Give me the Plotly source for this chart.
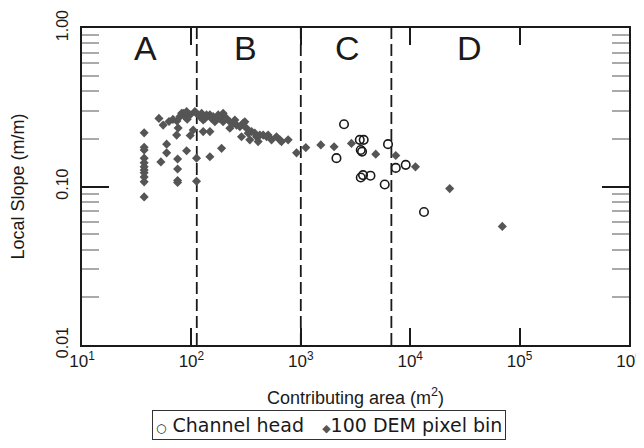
import plotly.graph_objects as go

# Channel heads (open circles)
ch_area = [2484, 2118, 3460, 3758, 3532, 3630, 3532, 3705, 4333, 5850, 6270, 7380, 9100, 13370]
ch_slope = [0.247, 0.151, 0.197, 0.197, 0.170, 0.166, 0.114, 0.118, 0.117, 0.103, 0.185, 0.131, 0.137, 0.069]

# 100 DEM pixel bins (diamonds)
bin_area = [37, 37, 37, 37, 37, 37, 37, 37, 37, 37, 37,
            50.5, 55.2, 62.4, 67.8, 73.7, 75.7, 78.5, 81.4, 84.1, 87.3, 90.4, 91.6, 96.9, 97.5,
            107.6, 103.8, 73.3, 59.4, 59.4, 52.6, 74.8, 74.8, 74.8, 74.8, 90.4, 111.4, 111.4,
            109.9, 119.6, 124, 128.2, 132.8, 137.6, 147.6, 152.8, 158, 164, 175.8, 182, 188.7,
            195, 195, 209.5, 224.7, 224.7, 241, 249.5, 258.7, 277.5, 297.4, 308, 319, 330.5,
            354.8, 380, 393.8, 407.5, 422.3, 452.8, 486.5, 502.6, 540, 599.4, 642.6, 666.2, 766,
            128.2, 147.6, 287, 342, 188.7, 147.6, 914, 1111, 1524, 2015, 2904, 4842, 7380,
            11170, 22960, 69500]
bin_slope = [0.218, 0.177, 0.170, 0.151, 0.141, 0.133, 0.127, 0.122, 0.115, 0.107, 0.086,
             0.269, 0.244, 0.257, 0.265, 0.259, 0.234, 0.276, 0.290, 0.290, 0.276, 0.297, 0.266, 0.283, 0.210,
             0.297, 0.227, 0.211, 0.185, 0.163, 0.143, 0.149, 0.129, 0.109, 0.106, 0.168, 0.151, 0.108,
             0.292, 0.276, 0.290, 0.263, 0.269, 0.283, 0.283, 0.269, 0.276, 0.256, 0.283, 0.269, 0.276,
             0.290, 0.256, 0.269, 0.256, 0.233, 0.251, 0.263, 0.244, 0.238, 0.251, 0.256, 0.233, 0.217,
             0.222, 0.217, 0.206, 0.192, 0.211, 0.211, 0.206, 0.211, 0.197, 0.206, 0.197, 0.192, 0.197,
             0.222, 0.222, 0.206, 0.197, 0.174, 0.154, 0.163, 0.176, 0.183, 0.178, 0.187, 0.160, 0.157,
             0.133, 0.097, 0.056]

# Region boundaries (contributing area, m^2) and labels
boundaries = [112, 1000, 6730]
region_labels = ["A", "B", "C", "D"]
region_label_pos = [0.1152, 0.298, 0.486, 0.7075]

legend_names = ["Channel head", "100 DEM pixel bin"]

x_tickvals = [1e1, 1e2, 1e3, 1e4, 1e5, 1e6]
x_ticktext = ["10<sup>1</sup>", "10<sup>2</sup>", "10<sup>3</sup>", "10<sup>4</sup>",
              "10<sup>5</sup>", "10<sup>6</sup>"]
y_tickvals = [0.01, 0.1, 1.0]
y_ticktext = ["0.01", "0.10", "1.00"]

DARK = "#1a1a1a"
GREY = "#555555"

fig = go.Figure()

for b in boundaries:
    fig.add_trace(go.Scatter(x=[b, b], y=[0.01, 1.0], mode="lines",
                             line=dict(color=DARK, width=1.8, dash="12px,5px"),
                             showlegend=False, hoverinfo="skip"))

fig.add_trace(go.Scatter(x=bin_area, y=bin_slope, mode="markers", name=legend_names[1],
                         marker=dict(symbol="diamond", size=7, color=GREY),
                         showlegend=False))
fig.add_trace(go.Scatter(x=ch_area, y=ch_slope, mode="markers", name=legend_names[0],
                         marker=dict(symbol="circle-open", size=8.5, color=DARK,
                                     line=dict(width=1.6)),
                         showlegend=False))

for lbl, px in zip(region_labels, region_label_pos):
    fig.add_annotation(x=px, y=0.937, xref="paper", yref="paper", text=lbl,
                       showarrow=False, font=dict(family="Liberation Sans", size=34, color=DARK),
                       xanchor="center", yanchor="middle")

# legend box (drawn as a bordered text annotation to match the compact original)
legend_text = ('<span style="font-size:12px">○</span> ' + legend_names[0] +
               '\u00a0\u00a0\u00a0<span style="font-size:11px;color:#555555">◆</span>' + legend_names[1])
fig.add_annotation(x=0.4516, y=-0.205, xref="paper", yref="paper", text=legend_text,
                   showarrow=False, xanchor="center", yanchor="top",
                   font=dict(family="DejaVu Sans", size=19, color=DARK),
                   bordercolor="#333333", borderwidth=1, borderpad=3, bgcolor="white")

tickfont_x = dict(family="Liberation Sans", size=17, color=DARK)
tickfont_y = dict(family="Liberation Sans", size=16, color=DARK)
titlefont = dict(family="Liberation Sans", size=18, color=DARK)

fig.update_layout(
    width=636, height=440, autosize=False,
    margin=dict(l=74, r=15, t=20, b=103),
    plot_bgcolor="white", paper_bgcolor="white",
    showlegend=False,
    xaxis=dict(type="log", range=[1, 6], tickvals=x_tickvals, ticktext=x_ticktext,
               ticks="inside", ticklen=17, tickwidth=1.5, tickcolor=DARK,
               showline=True, linecolor=DARK, linewidth=2, mirror="ticks",
               showgrid=False, zeroline=False, tickfont=tickfont_x, automargin=False,
               ticklabeloverflow="allow",
               title=dict(text="Contributing area (m<sup>2</sup>)", font=titlefont, standoff=21)),
    yaxis=dict(type="log", range=[-2, 0], tickvals=y_tickvals, ticktext=y_ticktext,
               tickangle=-90, ticklabelstandoff=6, automargin=False,
               ticklabeloverflow="allow",
               ticks="inside", ticklen=27, tickwidth=1.5, tickcolor=DARK,
               minor=dict(ticks="inside", ticklen=17, tickwidth=1.5, tickcolor="#aaaaaa",
                          dtick="D1", showgrid=False),
               showline=True, linecolor=DARK, linewidth=2, mirror="ticks",
               showgrid=False, zeroline=False, tickfont=tickfont_y,
               title=dict(text="Local Slope (m/m)", font=titlefont, standoff=24)),
)

fig.write_html("out.html")
